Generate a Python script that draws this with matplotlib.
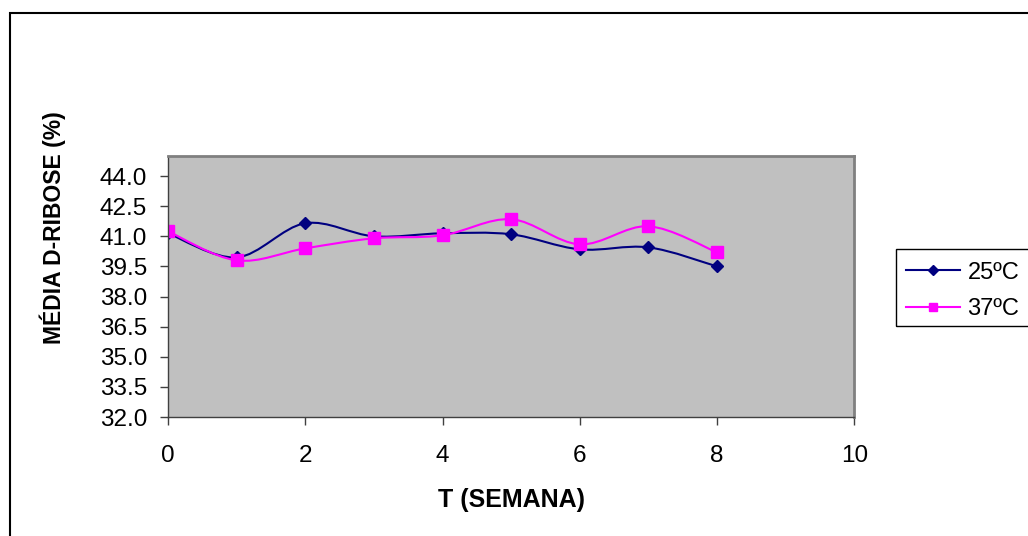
import numpy as np
import matplotlib
matplotlib.use('Agg')
import matplotlib.pyplot as plt
from matplotlib.path import Path
from matplotlib.patches import PathPatch, Rectangle
from matplotlib.lines import Line2D
from matplotlib.ticker import FormatStrFormatter

plt.rcParams['font.family'] = ['Liberation Sans', 'DejaVu Sans']

# weeks and mean D-ribose content at each storage temperature
semanas = [0, 1, 2, 3, 4, 5, 6, 7, 8]
media_25 = [41.15, 39.95, 41.65, 41.0, 41.15, 41.1, 40.35, 40.45, 39.5]
media_37 = [41.25, 39.8, 40.4, 40.9, 41.05, 41.85, 40.6, 41.5, 40.2]
series_labels = ['25ºC', '37ºC']
y_ticks = [32.0, 33.5, 35.0, 36.5, 38.0, 39.5, 41.0, 42.5, 44.0]
x_ticks = [0, 2, 4, 6, 8, 10]


def smooth_path(x, y):
    # cubic bezier through every point (catmull-rom style smoothing)
    pts = np.column_stack([x, y]).astype(float)
    n = len(pts)
    verts = [pts[0]]
    codes = [Path.MOVETO]
    for i in range(n - 1):
        p0 = pts[i - 1] if i > 0 else pts[i]
        p1 = pts[i]
        p2 = pts[i + 1]
        p3 = pts[i + 2] if i + 2 < n else pts[i + 1]
        verts += [p1 + (p2 - p0) / 6, p2 - (p3 - p1) / 6, p2]
        codes += [Path.CURVE4] * 3
    return Path(verts, codes)


W, H = 1028, 536
fig = plt.figure(figsize=(W / 100, H / 100), dpi=100)

# outer chart frame
fig.patches.append(Rectangle((9.5 / W, -0.2), 1.2, 1.2 - 12.5 / H, transform=fig.transFigure,
                             fill=False, edgecolor='black', lw=1.5))

left, right, top, bottom = 168, 854.3, 156, 417
ax = fig.add_axes([left / W, 1 - bottom / H, (right - left) / W, (bottom - top) / H])
ax.set_facecolor('#C0C0C0')
ax.set_xlim(0, 10)
ax.set_ylim(32, 45)
ax.set_xticks(x_ticks)
ax.set_yticks(y_ticks)
ax.yaxis.set_major_formatter(FormatStrFormatter('%.1f'))
for s in ['top', 'right']:
    ax.spines[s].set_color('#808080')
    ax.spines[s].set_linewidth(2)
for s in ['left', 'bottom']:
    ax.spines[s].set_color('#404040')
    ax.spines[s].set_linewidth(1)
ax.tick_params(axis='both', direction='out', length=6, width=1, color='#404040',
               labelsize=17.5, labelcolor='black')
ax.tick_params(axis='y', pad=9)
ax.tick_params(axis='x', pad=14)

colors = ['#000080', '#FF00FF']
markers = ['D', 's']
sizes = [6, 8]
for vals, c, m, ms in zip([media_25, media_37], colors, markers, sizes):
    ax.add_patch(PathPatch(smooth_path(semanas, vals), fill=False, edgecolor=c, lw=1.5))
    ax.plot(semanas, vals, ls='none', marker=m, ms=ms, color=c)

fig.text(53 / W, 1 - 227.5 / H, 'MÉDIA D-RIBOSE (%)', rotation=90, ha='center',
         va='center', fontweight='bold', fontsize=16.5)
fig.text(511.7 / W, 1 - 500 / H, 'T (SEMANA)', ha='center', va='center',
         fontweight='bold', fontsize=18)

# legend
handles = [Line2D([], [], color=c, marker=m, ms=ms * 0.8, lw=1.5)
           for c, m, ms in zip(colors, markers, sizes)]
fig.legend(handles, series_labels, loc='center left', bbox_to_anchor=(906 / W, 1 - 290.8 / H),
           frameon=False, fontsize=17, borderpad=0, borderaxespad=0,
           handlelength=2.3, handletextpad=0.3, labelspacing=0.6)
fig.patches.append(Rectangle((896 / W, 1 - 326 / H), 0.2, 77 / H, transform=fig.transFigure,
                             fill=False, edgecolor='black', lw=1))

fig.savefig('out.png', dpi=100)
